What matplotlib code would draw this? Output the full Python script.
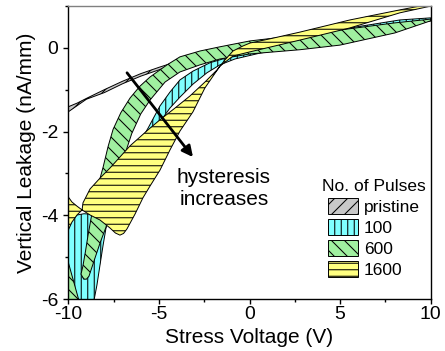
import matplotlib
matplotlib.use("Agg")
import matplotlib.pyplot as plt
from matplotlib.patches import Patch
from matplotlib.ticker import MultipleLocator

DPI = 78
K = 100 / DPI  # sizes below were picked for a 100 dpi canvas


def pt(v):
    return v * K


plt.rcParams["font.family"] = ["Liberation Sans", "DejaVu Sans"]
plt.rcParams["axes.unicode_minus"] = False
plt.rcParams["hatch.linewidth"] = pt(0.75)

# ---------- data ----------

# pristine: both sweeps on one voltage grid
pristine_x = [-10, -9.5, -9, -8, -7, -6, -5, -4, -2, 0, 2, 5, 8, 10]
pristine_up = [-1.41, -1.32, -1.21, -1.00, -0.80, -0.62, -0.47, -0.33, -0.12, 0.05, 0.18, 0.36, 0.53, 0.66]
pristine_dn = [-1.53, -1.38, -1.23, -1.07, -0.86, -0.68, -0.53, -0.38, -0.18, 0.00, 0.13, 0.30, 0.48, 0.64]

# 100 pulses
c100_a_x = [-10.0, -9.80, -9.52, -9.13, -8.80, -8.53, -8.25, -7.92, -7.59, -7.15, -6.59, -6.04,
            -5.49, -4.94, -4.39, -3.84, -3.12, -2.35, -1.63, -0.80, 0.58, 2.78, 5.54, 8.30, 10.0]
c100_a_y = [-4.30, -4.11, -3.99, -3.96, -3.97, -4.01, -4.09, -4.18, -4.16, -3.87, -3.27, -2.68,
            -2.15, -1.77, -1.44, -1.18, -0.87, -0.60, -0.41, -0.27, -0.13, 0.02, 0.28, 0.52, 0.64]
c100_b_x = [-10.0, -8.65, -8.58, -8.42, -8.25, -8.08, -7.92, -7.70, -7.15, -6.59, -6.04, -5.60,
            -4.94, -4.39, -3.84, -3.12, -2.18, -1.08, 0.58, 2.78, 5.54, 8.30, 10.0]
c100_b_y = [-6.60, -6.40, -6.02, -5.66, -5.18, -4.71, -4.30, -3.99, -3.51, -2.80, -2.25, -1.92,
            -1.39, -1.06, -0.77, -0.56, -0.36, -0.22, -0.08, 0.09, 0.47, 0.66, 0.71]

# 600 pulses
c600_a_x = [-9.30, -9.20, -9.05, -8.91, -8.69, -8.42, -8.08, -7.80, -7.53, -7.10, -6.59, -6.05,
            -5.49, -4.55, -3.84, -2.73, -1.63, 0.03, 2.78, 4.99, 8.02, 10.0]
c600_a_y = [-5.40, -5.22, -4.85, -4.47, -3.94, -3.39, -2.85, -2.35, -1.95, -1.55, -1.20, -0.92,
            -0.70, -0.41, -0.22, -0.08, 0.02, 0.16, 0.30, 0.42, 0.59, 0.68]
c600_b_x = [-9.15, -9.00, -8.86, -8.53, -8.25, -7.92, -7.48, -6.98, -6.50, -6.00, -5.49, -4.66,
            -3.84, -2.73, -1.63, 0.03, 2.78, 4.99, 8.02, 10.0]
c600_b_y = [-5.52, -5.52, -5.45, -5.02, -4.66, -4.28, -3.51, -2.68, -2.05, -1.58, -1.25, -0.82,
            -0.58, -0.41, -0.27, -0.15, -0.05, 0.06, 0.35, 0.64]
c600_tail_x = [-10.0, -9.40]
c600_tail_y = [-5.12, -6.05]

# 1600 pulses
c1600_a_x = [-10.0, -9.80, -9.52, -9.24, -8.80, -8.25, -7.70, -7.40, -7.15, -6.95, -6.76, -6.32,
             -5.88, -5.49, -4.94, -4.39, -3.84, -3.12, -2.46, -1.63, -0.91, 0.03, 2.78, 5.54, 8.30, 10.0]
c1600_a_y = [-3.56, -3.68, -3.78, -3.87, -3.99, -4.11, -4.30, -4.42, -4.47, -4.43, -4.32, -3.97,
             -3.58, -3.30, -2.92, -2.44, -1.99, -1.53, -0.96, -0.44, -0.20, -0.10, 0.18, 0.47, 0.83, 0.99]
c1600_b_x = [-10.0, -9.80, -9.52, -9.24, -9.19, -8.80, -8.25, -7.70, -6.59, -5.60, -4.94, -4.11,
             -3.28, -2.46, -1.79, -1.35, -0.91, -0.36, 0.03, 1.13, 2.78, 5.54, 8.30, 10.0]
c1600_b_y = [-4.35, -4.16, -3.99, -3.87, -3.70, -3.37, -3.11, -2.87, -2.34, -1.96, -1.72, -1.44,
             -1.15, -0.82, -0.53, -0.29, -0.08, 0.04, 0.11, 0.21, 0.37, 0.66, 0.90, 1.04]

labels = ["pristine", "100", "600", "1600"]
colors = ["#c8c8c8", "#80ffff", "#a0f0a0", "#ffff80"]
hatches = ["//", "||", "\\\\", "--"]

arrow_start = (-6.76, -0.60)
arrow_end = (-3.12, -2.61)


def band(ax, xa, ya, xb, yb, **kw):
    # closed loop: one sweep out, the other sweep back
    xs = list(xa) + list(xb)[::-1]
    ys = list(ya) + list(yb)[::-1]
    return ax.fill(xs, ys, **kw)


fig = plt.figure(figsize=(445 / DPI, 351 / DPI), dpi=DPI)
ax = fig.add_axes([0.1535, 0.1473, 0.8144, 0.8365])

edge = dict(edgecolor="k", linewidth=pt(0.7))

ax.fill_between(pristine_x, pristine_up, pristine_dn, facecolor=colors[0], hatch=hatches[0], zorder=1, **edge)
band(ax, c100_a_x, c100_a_y, c100_b_x, c100_b_y, facecolor=colors[1], hatch=hatches[1], zorder=2, **edge)
band(ax, c600_a_x, c600_a_y, c600_b_x, c600_b_y, facecolor=colors[2], hatch=hatches[2], zorder=3, **edge)
ax.fill_between(c600_tail_x, c600_tail_y, -7, facecolor=colors[2], hatch=hatches[2], zorder=3, **edge)
band(ax, c1600_a_x, c1600_a_y, c1600_b_x, c1600_b_y, facecolor=colors[3], hatch=hatches[3], zorder=4, **edge)

ax.annotate("", xy=arrow_end, xytext=arrow_start,
            arrowprops=dict(arrowstyle="-|>", color="k", lw=pt(2.0), mutation_scale=pt(16),
                            shrinkA=0, shrinkB=0), zorder=6)
ax.text(-1.41, -3.37, "hysteresis\nincreases", ha="center", va="center",
        multialignment="center", fontsize=pt(15), zorder=6)

ax.set_xlim(-10, 10)
ax.set_ylim(-6, 1)
ax.xaxis.set_major_locator(MultipleLocator(5))
ax.xaxis.set_minor_locator(MultipleLocator(2.5))
ax.yaxis.set_major_locator(MultipleLocator(2))
ax.yaxis.set_minor_locator(MultipleLocator(1))
ax.tick_params(which="both", direction="out", top=False, right=False, width=pt(1.0), labelsize=pt(14))
ax.tick_params(which="major", length=pt(3.6))
ax.tick_params(which="minor", length=pt(2.2))
ax.tick_params(axis="x", pad=pt(1.5))
ax.tick_params(axis="y", pad=pt(3.5))

for side in ["left", "bottom", "right"]:
    ax.spines[side].set_color("k")
    ax.spines[side].set_linewidth(pt(1.0))
ax.spines["top"].set_color("#808080")
ax.spines["top"].set_linewidth(pt(1.0))
for s in ax.spines.values():
    s.set_zorder(10)

ax.set_xlabel("Stress Voltage (V)", fontsize=pt(15), labelpad=pt(3))
ax.set_ylabel("Vertical Leakage (nA/mm)", fontsize=pt(15), labelpad=pt(3.5))

handles = [Patch(facecolor=c, edgecolor="k", hatch=h, linewidth=pt(0.7))
           for c, h in zip(colors, hatches)]
leg = ax.legend(handles, labels, title="No. of Pulses", loc="upper left",
                bbox_to_anchor=(0.70, 0.41), frameon=False, fontsize=pt(12.5),
                title_fontsize=pt(12.5), handlelength=1.75, handleheight=1.0,
                handletextpad=0.35, labelspacing=0.25, borderpad=0, borderaxespad=0)
leg.set_zorder(8)

fig.savefig("out.png", dpi=DPI)
